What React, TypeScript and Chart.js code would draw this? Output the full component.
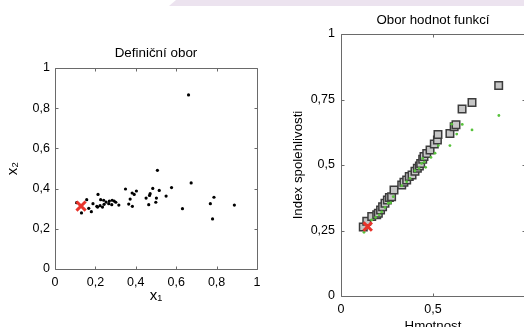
import React, { useEffect, useRef } from "react";
import { Chart, registerables } from "chart.js";

Chart.register(...registerables);

// ---- Left chart: Definiční obor ----
const leftTitle = "Definiční obor";
const leftXLabel = "x₁";
const leftYLabel = "x₂";
const domainX = [0.661, 0.507, 0.674, 0.577, 0.349, 0.403, 0.382, 0.392, 0.484, 0.516, 0.550, 0.471, 0.468, 0.451, 0.502, 0.499, 0.464, 0.372, 0.365, 0.383, 0.631, 0.787, 0.769, 0.780, 0.888, 0.157, 0.213, 0.188, 0.207, 0.223, 0.226, 0.241, 0.253, 0.266, 0.269, 0.283, 0.293, 0.301, 0.316, 0.235, 0.211, 0.107, 0.131, 0.167, 0.180, 0.243, 0.281];
const domainY = [0.866, 0.491, 0.428, 0.405, 0.398, 0.388, 0.378, 0.371, 0.401, 0.391, 0.363, 0.375, 0.366, 0.353, 0.353, 0.332, 0.320, 0.348, 0.323, 0.312, 0.300, 0.357, 0.325, 0.249, 0.318, 0.345, 0.371, 0.325, 0.312, 0.315, 0.345, 0.342, 0.333, 0.325, 0.338, 0.342, 0.338, 0.332, 0.318, 0.308, 0.308, 0.330, 0.279, 0.302, 0.285, 0.322, 0.320];
const domainMark = { x: 0.129, y: 0.313 };

// ---- Right chart: Obor hodnot funkcí ----
const rightTitle = "Obor hodnot funkcí";
const rightXLabel = "Hmotnost";
const rightYLabel = "Index spolehlivosti";
const squareX = [0.121, 0.140, 0.167, 0.194, 0.203, 0.215, 0.226, 0.239, 0.252, 0.263, 0.275, 0.288, 0.330, 0.342, 0.357, 0.371, 0.386, 0.402, 0.415, 0.426, 0.433, 0.444, 0.451, 0.466, 0.484, 0.507, 0.524, 0.527, 0.592, 0.615, 0.625, 0.658, 0.712, 0.857];
const squareY = [0.263, 0.285, 0.303, 0.310, 0.316, 0.328, 0.341, 0.354, 0.366, 0.376, 0.379, 0.405, 0.424, 0.434, 0.443, 0.456, 0.462, 0.476, 0.488, 0.496, 0.506, 0.522, 0.532, 0.544, 0.557, 0.580, 0.595, 0.616, 0.620, 0.646, 0.654, 0.714, 0.739, 0.803];
const greenX = [0.125, 0.167, 0.188, 0.208, 0.221, 0.239, 0.257, 0.270, 0.284, 0.330, 0.357, 0.375, 0.402, 0.424, 0.438, 0.444, 0.453, 0.460, 0.489, 0.511, 0.529, 0.592, 0.602, 0.629, 0.659, 0.712, 0.858];
const greenY = [0.243, 0.290, 0.300, 0.310, 0.321, 0.338, 0.354, 0.356, 0.379, 0.421, 0.436, 0.449, 0.478, 0.487, 0.506, 0.525, 0.511, 0.491, 0.529, 0.545, 0.574, 0.574, 0.656, 0.618, 0.655, 0.634, 0.689];
const rangeMark = { x: 0.145, y: 0.265 };

const FONT = "'Liberation Sans', Arial, Helvetica, sans-serif";

const fmt = (v: number) => String(+Number(v).toFixed(2)).replace(".", ",");

const framePlugin = {
  id: "matlabFrame",
  beforeDatasetsDraw(chart: any) {
    const { ctx, chartArea: a, scales } = chart;
    ctx.save();
    ctx.strokeStyle = "#6a6a6a";
    ctx.lineWidth = 1;
    const L = Math.round(a.left) + 0.5;
    const R = Math.round(a.right) + 0.5;
    const T = Math.round(a.top) + 0.5;
    const B = Math.round(a.bottom) + 0.5;
    ctx.beginPath();
    ctx.moveTo(L, T);
    ctx.lineTo(R, T);
    ctx.lineTo(R, B);
    ctx.lineTo(L, B);
    ctx.closePath();
    ctx.stroke();
    ctx.beginPath();
    scales.x.ticks.forEach((t: any) => {
      const px = Math.round(scales.x.getPixelForValue(t.value)) + 0.5;
      ctx.moveTo(px, B);
      ctx.lineTo(px, B - 3);
      ctx.moveTo(px, T);
      ctx.lineTo(px, T + 3);
    });
    scales.y.ticks.forEach((t: any) => {
      const py = Math.round(scales.y.getPixelForValue(t.value)) + 0.5;
      ctx.moveTo(L, py);
      ctx.lineTo(L + 3, py);
      ctx.moveTo(R, py);
      ctx.lineTo(R - 3, py);
    });
    ctx.stroke();
    ctx.restore();
  },
};

function makeScale(opts: any) {
  return {
    type: "linear",
    position: opts.position,
    min: 0,
    max: 1,
    grid: { display: false, drawTicks: false },
    border: { display: false },
    ticks: {
      display: opts.showTicks !== false,
      stepSize: opts.step,
      color: "#000",
      font: { size: 12.5, family: FONT },
      padding: opts.tickPad,
      autoSkip: false,
      maxRotation: 0,
      callback: opts.cb || ((v: number) => fmt(v)),
    },
    title: {
      display: true,
      text: opts.title,
      color: "#000",
      font: { size: opts.titleSize, family: FONT, lineHeight: 1.2 },
      padding: opts.titlePad,
    },
    afterFit(scale: any) {
      if (opts.width !== undefined) scale.width = opts.width;
      if (opts.height !== undefined) scale.height = opts.height;
    },
  };
}

function LeftChart() {
  const ref = useRef<HTMLCanvasElement>(null);
  useEffect(() => {
    const dots = domainX.map((x, i) => ({ x, y: domainY[i] }));
    const chart = new Chart(ref.current as HTMLCanvasElement, {
      type: "scatter",
      data: {
        datasets: [
          {
            data: [domainMark],
            pointStyle: "crossRot",
            pointRadius: 6.5,
            borderColor: "#e8342c",
            backgroundColor: "#e8342c",
            borderWidth: 3,
          },
          {
            data: dots,
            pointRadius: 1.6,
            backgroundColor: "#000",
            borderWidth: 0,
          },
        ],
      },
      options: {
        responsive: false,
        animation: false,
        events: [],
        layout: { padding: { left: 0, right: 13, top: 0, bottom: 0 } },
        plugins: {
          legend: { display: false },
          tooltip: { enabled: false },
          title: { display: false },
        },
        scales: {
          x: makeScale({ position: "bottom", step: 0.2, tickPad: 6, title: leftXLabel, titleSize: 15, titlePad: { top: 0, bottom: 22 }, height: 58 }),
          xTop: makeScale({ position: "top", step: 0.2, showTicks: false, title: leftTitle, titleSize: 13.4, titlePad: { top: 45, bottom: 0 }, height: 68 }),
          y: makeScale({ position: "left", step: 0.2, tickPad: 5, title: leftYLabel, titleSize: 15, titlePad: { top: 4, bottom: 0 }, width: 55 }),
        },
      } as any,
      plugins: [framePlugin],
    });
    return () => chart.destroy();
  }, []);
  return <canvas ref={ref} width={270} height={327} style={{ position: "absolute", left: 0, top: 0 }} />;
}

function RightChart() {
  const ref = useRef<HTMLCanvasElement>(null);
  useEffect(() => {
    const squares = squareX.map((x, i) => ({ x, y: squareY[i] }));
    const greens = greenX.map((x, i) => ({ x, y: greenY[i] }));
    const chart = new Chart(ref.current as HTMLCanvasElement, {
      type: "scatter",
      data: {
        datasets: [
          {
            data: [rangeMark],
            pointStyle: "crossRot",
            pointRadius: 6,
            borderColor: "#e8342c",
            backgroundColor: "#e8342c",
            borderWidth: 3,
          },
          {
            data: greens,
            pointRadius: 1.4,
            backgroundColor: "#58c23c",
            borderWidth: 0,
          },
          {
            data: squares,
            pointStyle: "rect",
            pointRadius: 5.3,
            backgroundColor: "#c6c6c6",
            borderColor: "#3c3c3c",
            borderWidth: 1.5,
          },
        ],
      },
      options: {
        responsive: false,
        animation: false,
        events: [],
        layout: { padding: { left: 0, right: 15, top: 0, bottom: 0 } },
        plugins: {
          legend: { display: false },
          tooltip: { enabled: false },
          title: { display: false },
        },
        scales: {
          x: makeScale({
            position: "bottom",
            step: 0.5,
            tickPad: 6,
            title: rightXLabel,
            titleSize: 13.3,
            titlePad: { top: 0, bottom: 6 },
            height: 44,
            cb: (v: number) => (v >= 1 ? "" : fmt(v)),
          }),
          xTop: makeScale({ position: "top", step: 0.5, showTicks: false, title: rightTitle, titleSize: 13.3, titlePad: { top: 12, bottom: 0 }, height: 34 }),
          y: makeScale({ position: "left", step: 0.25, tickPad: 6, title: rightYLabel, titleSize: 13.3, titlePad: { top: 10, bottom: 0 }, width: 61 }),
        },
      } as any,
      plugins: [framePlugin],
    });
    return () => chart.destroy();
  }, []);
  return <canvas ref={ref} width={260} height={340} style={{ position: "absolute", left: 280, top: 0 }} />;
}

export default function App() {
  return (
    <div
      style={{
        position: "fixed",
        left: 0,
        top: 0,
        width: 524,
        height: 327,
        overflow: "hidden",
        background: "#fff",
      }}
    >
      <LeftChart />
      <RightChart />
      <div
        style={{
          position: "absolute",
          left: 0,
          top: 0,
          width: 524,
          height: 6,
          background: "#ece3ef",
          clipPath: "polygon(176px 0, 524px 0, 524px 6px, 169px 6px)",
        }}
      />
    </div>
  );
}
